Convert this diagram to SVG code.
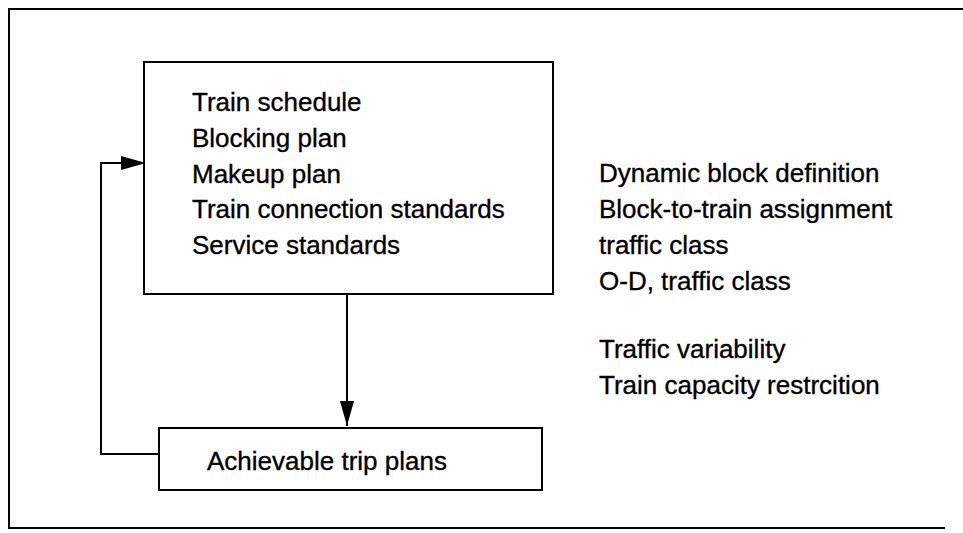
<svg xmlns="http://www.w3.org/2000/svg" width="963" height="533" viewBox="0 0 963 533">
<style>
.box{fill:#fff;stroke:#000;stroke-width:2}
.frame{fill:none;stroke:#000;stroke-width:2}
.conn{fill:none;stroke:#000;stroke-width:2}
text{font-family:"Liberation Sans",Arial,sans-serif;font-size:26px;fill:#000;stroke:#000;stroke-width:0.35}
</style>
<defs>
<marker id="ah" markerUnits="userSpaceOnUse" markerWidth="26" markerHeight="14" refX="25" refY="7" orient="auto">
<path d="M0,0 L25,7 L0,14 Z" fill="#000"/>
</marker>
</defs>
<rect width="963" height="533" fill="#fff"/>
<path class="frame" d="M963,9 H9 V528 H945"/>
<g id="connectors">
<line class="conn" x1="347" y1="294" x2="347" y2="426" marker-end="url(#ah)"/>
<polyline class="conn" points="159,454 101,454 101,163 146,163" marker-end="url(#ah)"/>
</g>
<g id="plan-box">
<rect class="box" x="144" y="62" width="409" height="232"/>
<text x="192" y="111">Train schedule</text>
<text x="192" y="147">Blocking plan</text>
<text x="192" y="183">Makeup plan</text>
<text x="192" y="218">Train connection standards</text>
<text x="192" y="254">Service standards</text>
</g>
<g id="trip-box">
<rect class="box" x="159" y="428" width="383" height="62"/>
<text x="207" y="470">Achievable trip plans</text>
</g>
<g id="upper-labels">
<text x="599" y="182">Dynamic block definition</text>
<text x="599" y="218">Block-to-train assignment</text>
<text x="599" y="254">traffic class</text>
<text x="599" y="290">O-D, traffic class</text>
</g>
<g id="lower-labels">
<text x="599" y="358">Traffic variability</text>
<text x="599" y="394">Train capacity restrcition</text>
</g>
</svg>
